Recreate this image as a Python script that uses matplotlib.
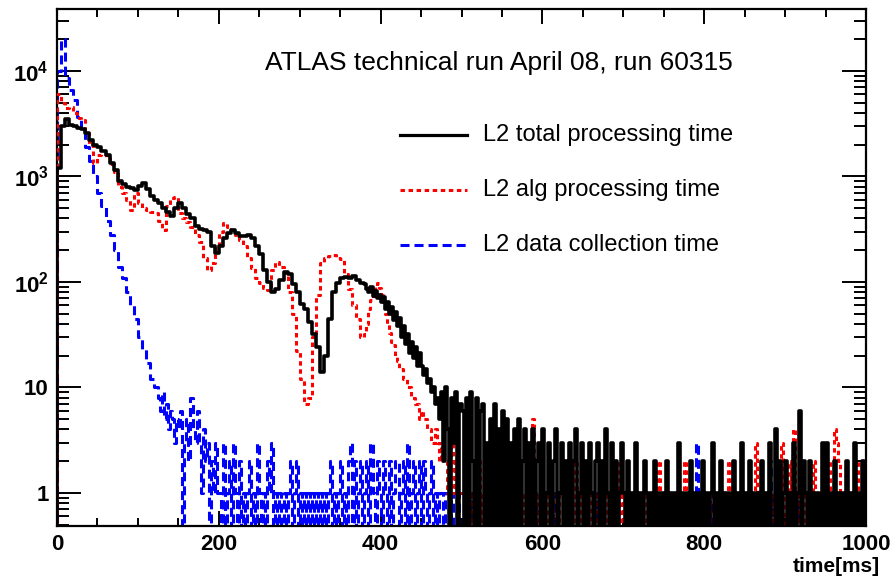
import numpy as np
import matplotlib
matplotlib.use("Agg")
import matplotlib.pyplot as plt
from matplotlib.lines import Line2D
from matplotlib.ticker import FixedLocator, LogLocator, NullFormatter, MultipleLocator

plt.rcParams['font.family'] = ['Liberation Sans', 'DejaVu Sans']
plt.rcParams['mathtext.fontset'] = 'custom'
plt.rcParams['mathtext.rm'] = 'Liberation Sans:bold'
plt.rcParams['mathtext.bf'] = 'Liberation Sans:bold'
plt.rcParams['mathtext.it'] = 'Liberation Sans:bold'
plt.rcParams['lines.scale_dashes'] = False

# ---- data ----
# coarse part: 5 ms bins starting at 0 ms; fine part: 2.5 ms bins following it
coarse_width = 5.0
fine_width = 2.5

total_coarse = [  # 0-380 ms
    1200, 3000, 3500, 3100, 3000, 2900, 2800, 2600, 2200, 2000,
    1900, 1750, 1600, 1350, 1150, 900, 850, 800, 780, 740,
    820, 870, 760, 660, 600, 560, 500, 460, 420, 500,
    560, 500, 440, 400, 340, 320, 310, 300, 220, 190,
    220, 260, 290, 310, 290, 270, 275, 280, 260, 220,
    185, 130, 100, 80, 85, 105, 125, 120, 95, 80,
    62, 55, 42, 32, 24, 14, 20, 45, 80, 98,
    108, 112, 110, 114, 105, 98,
]
total_fine = [  # 380-1000 ms
    95, 86, 80, 90, 74, 82, 70, 76, 64, 72,
    56, 64, 50, 58, 44, 52, 38, 46, 30, 38,
    26, 32, 21, 27, 19, 24, 16, 21,
    16, 13, 15, 11, 12, 9, 10, 7, 8, 5,
    9, 2, 10, 4, 0, 8, 3, 9, 0, 7,
    6, 0, 8, 0, 9, 2, 0, 8, 0, 6,
    7, 0, 3, 0, 5, 0, 7, 0, 4, 0,
    6, 0, 5, 0,
    3, 0, 4, 0, 5, 0, 2, 4, 0, 3,
    0, 4, 0, 2, 3, 0, 4, 0, 1, 3,
    0, 2, 4, 0, 1, 3, 0, 2, 0, 3,
    0, 2, 4, 0, 1, 3, 0, 2, 0, 3,
    1, 0, 2, 3, 0, 2, 0, 4, 1, 0,
    3, 0, 2, 0, 1, 3,
    1, 0, 2, 0, 1, 0, 3, 0, 1, 0,
    2, 1, 0, 1, 0, 2, 0, 1, 0, 1,
    0, 2, 0, 1, 0, 1, 0, 3, 0, 1,
    0, 1, 0, 2, 0, 1, 0, 1, 0, 2,
    0, 1, 0, 1, 3, 0, 1, 0, 2, 0,
    1, 0, 1, 0, 2, 0, 1, 0, 3, 0,
    1, 0, 2, 0, 1, 0, 1, 0, 2, 0,
    1, 0, 3, 0, 0, 4, 0, 2, 0, 1,
    2, 0, 1, 0, 3, 0, 1, 6, 0, 2,
    1, 0, 2, 0, 1, 0, 1, 0, 3, 0,
    3, 0, 1, 0, 2, 0, 1, 0, 1, 0,
    2, 0, 1, 0, 3, 0, 1, 0, 2, 0,
]
alg_coarse = [  # 0-380 ms
    6000, 5000, 4500, 4600, 4000, 3600, 3400, 2600, 2000, 1350,
    1600, 1650, 1500, 1300, 1100, 800, 700, 600, 480, 700,
    560, 500, 480, 460, 450, 380, 310, 520, 620, 640,
    450, 400, 370, 330, 280, 240, 170, 130, 150, 220,
    300, 360, 330, 310, 280, 250, 220, 170, 135, 110,
    98, 88, 84, 130, 155, 140, 122, 80, 50, 22,
    12, 7, 8, 30, 75, 150, 170, 175, 180, 170,
    165, 120, 85, 60, 45, 30,
]
alg_fine = [  # 380-1000 ms
    32, 40, 55, 68, 80, 90, 98, 88, 75, 62,
    50, 40, 33, 27, 25, 20, 18, 15, 15, 12,
    12, 10, 10, 8, 8, 7, 7, 5,
    6, 5, 5, 4, 4, 3, 3, 4, 3, 2,
    3, 2, 2, 1, 2, 3, 1, 2, 1, 1,
    1, 0, 2, 1, 0, 1, 0, 1, 2, 0,
    1, 0, 1, 0, 2, 1, 0, 0, 1, 0,
    1, 0, 0, 1, 2, 0, 1, 0, 0, 1,
    0, 1, 0, 0, 1, 5, 1, 0, 1, 0,
    1, 0, 0, 2, 1, 0, 0, 1, 0, 0,
    1, 0, 0, 1, 0, 0, 2, 0, 1, 0,
    0, 0, 2, 1, 0, 0, 1, 0, 0, 1,
    0, 1, 0, 0, 1, 0, 0, 2, 0, 1,
    0, 0, 1, 0, 0, 1, 0, 0, 1, 0,
    0, 1, 0, 0, 1, 0, 0, 2, 0, 0,
    1, 0, 0, 0, 1, 0, 0, 1, 0, 0,
    2, 0, 0, 1, 0, 0, 1, 0, 0, 1,
    0, 0, 1, 0, 0, 1, 0, 0, 1, 0,
    0, 0, 2, 0, 1, 0, 0, 1, 0, 0,
    1, 0, 0, 0, 0, 3, 0, 1, 0, 0,
    1, 0, 0, 0, 1, 0, 0, 0, 3, 1,
    0, 1, 2, 0, 4, 1, 0, 1, 0, 0,
    1, 0, 0, 1, 2, 0, 0, 1, 0, 1,
    0, 2, 0, 1, 4, 3, 2, 1, 0, 1,
    0, 0, 1, 0, 0, 2, 0, 1, 0, 0,
]
dc_coarse = [  # 0-125 ms
    10000, 20000, 8500, 6600, 5300, 3700, 2700, 1900, 1400, 1000,
    700, 520, 380, 280, 200, 140, 110, 80, 60, 45,
    30, 23, 17, 12, 10,
]
dc_fine = [  # 125-1000 ms
    8, 6, 9, 5, 7, 4, 6, 5, 3, 5,
    4, 6, 0, 3, 5, 2, 8, 4, 3, 6,
    3, 1, 4, 2, 3, 0, 2, 1, 3, 1,
    1, 0, 3, 0, 1, 2, 0, 3, 1, 0,
    2, 0, 1, 0, 1, 2, 0, 1, 0, 3,
    1, 0, 1, 0, 2, 1, 3, 0, 1, 0,
    1, 0, 1, 0, 1, 2, 0, 1, 2, 0,
    1, 0, 1, 0, 1, 0, 1, 0, 1, 0,
    1, 0, 1, 0, 1, 2, 0, 1, 0, 1,
    2, 0, 1, 0, 2, 3, 0, 2, 0, 1,
    2, 0, 1, 2, 0, 3, 1, 0, 2, 1,
    0, 2, 1, 0, 2, 0, 1, 2, 2, 0,
    1, 2, 0, 3, 0, 1, 2, 0, 1, 2,
    0, 2, 1, 0, 1, 2, 0, 1, 0, 1,
    1, 0, 1, 1, 0, 1, 0, 0, 1, 0,
    0, 1, 0, 0, 0, 1, 0, 0, 0, 0,
    0, 0, 1, 0, 0, 0, 0, 1, 0, 0,
    0, 0, 0, 0, 1, 0, 0, 0, 0, 0,
    0, 0, 0, 0, 0, 0, 1, 0, 0, 0,
    0, 0, 0, 0, 0, 1, 0, 0, 0, 0,
    0, 0, 0, 0, 0, 0, 0, 0, 0, 0,
    0, 0, 0, 0, 0, 0, 0, 1, 0, 0,
    0, 0, 0, 0, 0, 0, 0, 0, 0, 0,
    0, 0, 0, 0, 0, 1, 0, 0, 0, 0,
    0, 0, 0, 0, 0, 0, 0, 0, 1, 0,
    0, 0, 0, 0, 0, 0, 0, 0, 0, 0,
    0, 0, 0, 0, 0, 0, 3, 0, 0, 0,
    0, 0, 0, 1, 0, 0, 0, 0, 0, 0,
    0, 0, 0, 0, 0, 0, 1, 0, 0, 0,
    0, 0, 0, 0, 0, 0, 0, 0, 0, 0,
    0, 0, 2, 1, 0, 0, 0, 0, 0, 0,
    0, 0, 0, 0, 0, 0, 0, 1, 0, 0,
    0, 0, 0, 0, 0, 0, 0, 0, 0, 0,
    0, 0, 0, 0, 0, 0, 0, 0, 0, 1,
    0, 0, 0, 0, 0, 0, 0, 0, 1, 0,
]
labels = ["L2 total processing time", "L2 alg processing time", "L2 data collection time"]
title_text = "ATLAS technical run April 08, run 60315"
x_label = "time[ms]"

# ---- figure ----
W, H = 892, 578
fig = plt.figure(figsize=(W / 100, H / 100), dpi=100)
ax = fig.add_axes([57 / W, 1 - 526 / H, 809 / W, 517 / H])

floor = 1e-3

def draw_hist(coarse, fine, **kw):
    nc = len(coarse)
    e_c = coarse_width * np.arange(nc + 1)
    e_f = e_c[-1] + fine_width * np.arange(1, len(fine) + 1)
    edges = np.concatenate([e_c, e_f])
    v = np.clip(np.asarray(list(coarse) + list(fine), float), floor, None)
    x = np.concatenate([[edges[0]], edges])
    y = np.concatenate([[floor], v, [v[-1]]])
    ax.step(x, y, where='post', **kw)

blue_style = dict(color='#0000ff', lw=2.2, linestyle=(0, (6.5, 3.6)))
red_style = dict(color='#ff0000', lw=2.2, linestyle=(0, (3.2, 2.6)))
black_style = dict(color='black', lw=2.6)

draw_hist(dc_coarse, dc_fine, zorder=2, **blue_style)
draw_hist(alg_coarse, alg_fine, zorder=3, **red_style)
draw_hist(total_coarse, total_fine, zorder=4, **black_style)

ax.set_yscale('log')
ax.set_xlim(0, 1000)
ax.set_ylim(0.486, 38700)

ax.yaxis.set_major_locator(FixedLocator([1, 10, 100, 1000, 10000]))
ax.set_yticklabels(['1', '10', r'$10^{2}$', r'$10^{3}$', r'$10^{4}$'])
ax.yaxis.set_minor_locator(LogLocator(base=10, subs=np.arange(2, 10)))
ax.yaxis.set_minor_formatter(NullFormatter())
ax.xaxis.set_major_locator(MultipleLocator(200))
ax.xaxis.set_minor_locator(MultipleLocator(50))

for s in ax.spines.values():
    s.set_linewidth(1.6)
ax.tick_params(which='both', direction='in', top=True, right=True, width=1.4)
ax.tick_params(axis='y', which='major', length=17, labelsize=16, pad=6)
ax.tick_params(axis='y', which='minor', length=8.5)
ax.tick_params(axis='x', which='major', length=11, labelsize=16, pad=6)
ax.tick_params(axis='x', which='minor', length=6)
for lab in ax.get_xticklabels() + ax.get_yticklabels():
    lab.set_fontweight('bold')

fig.text(880 / W, 1 - 567 / H, x_label, ha='right', va='center', fontsize=15, fontweight='bold')
fig.text(265 / W, 1 - 63 / H, title_text, ha='left', va='center', fontsize=19)

legend_black = dict(black_style, lw=2.3)
for i, (lab, st) in enumerate(zip(labels, [legend_black, red_style, blue_style])):
    yp = 1 - (135 + 55 * i) / H
    fig.add_artist(Line2D([400 / W, 467 / W], [yp, yp], transform=fig.transFigure, **st))
    fig.text(483 / W, yp, lab, ha='left', va='center', fontsize=17)

fig.savefig('out.png', dpi=100)
